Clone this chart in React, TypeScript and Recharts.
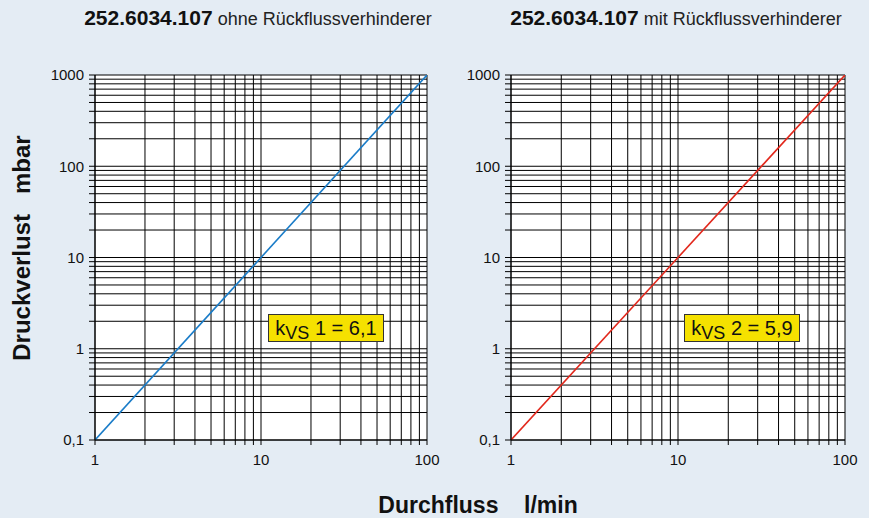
import React from "react";
import { LineChart, Line, XAxis, YAxis, CartesianGrid } from "recharts";

// Durchfluss l/min
const flow = [1, 10, 100];
// Druckverlust mbar
const lossOhne = [0.1, 10, 1000];
const lossMit = [0.1, 10, 1000];

const xTicks = [1, 2, 3, 4, 5, 6, 7, 8, 9, 10, 20, 30, 40, 50, 60, 70, 80, 90, 100];
const yTicks = [
  0.1, 0.2, 0.3, 0.4, 0.5, 0.6, 0.7, 0.8, 0.9,
  1, 2, 3, 4, 5, 6, 7, 8, 9,
  10, 20, 30, 40, 50, 60, 70, 80, 90,
  100, 200, 300, 400, 500, 600, 700, 800, 900,
  1000,
];
const xLabels: Record<number, string> = { 1: "1", 10: "10", 100: "100" };
const yLabels: Record<number, string> = { 0.1: "0,1", 1: "1", 10: "10", 100: "100", 1000: "1000" };

const FONT = "'Liberation Sans', Arial, Helvetica, sans-serif";

const makeData = (loss: number[]) => flow.map((q, i) => ({ q, p: loss[i] }));

type PanelProps = {
  data: { q: number; p: number }[];
  color: string;
  width: number;
  margin: { top: number; right: number; bottom: number; left: number };
};

const Panel = ({ data, color, width, margin }: PanelProps) => (
  <LineChart width={width} height={518} data={data} margin={margin}>
    <CartesianGrid stroke="#000" strokeWidth={1} fill="#fff" fillOpacity={1} />
    <XAxis
      dataKey="q"
      type="number"
      scale="log"
      domain={[1, 100]}
      ticks={xTicks}
      interval={0}
      allowDataOverflow
      height={30}
      tickSize={5}
      tickMargin={9}
      stroke="#000"
      tick={{ fill: "#111", fontSize: 15, fontFamily: FONT }}
      tickFormatter={(v: number) => xLabels[v] ?? ""}
    />
    <YAxis
      dataKey="p"
      type="number"
      scale="log"
      domain={[0.1, 1000]}
      ticks={yTicks}
      interval={0}
      allowDataOverflow
      width={50}
      tickSize={6}
      tickMargin={5}
      stroke="#000"
      tick={{ fill: "#111", fontSize: 15, fontFamily: FONT }}
      tickFormatter={(v: number) => yLabels[v] ?? ""}
    />
    <Line
      dataKey="p"
      stroke={color}
      strokeWidth={1.6}
      dot={false}
      isAnimationActive={false}
      type="linear"
    />
  </LineChart>
);

const KvsBox = ({ left, top, num, value }: { left: number; top: number; num: string; value: string }) => (
  <div
    style={{
      position: "absolute",
      left,
      top,
      width: 114,
      height: 26,
      background: "#f5e100",
      border: "1.5px solid #333",
      fontFamily: FONT,
      fontSize: 20,
      color: "#111",
      textAlign: "center",
      lineHeight: "26px",
    }}
  >
    k<sub style={{ fontSize: 18, verticalAlign: "-4px" }}>VS</sub> {num} = {value}
  </div>
);

const Title = ({ center, rest }: { center: number; rest: string }) => (
  <div
    style={{
      position: "absolute",
      left: center - 250,
      width: 500,
      top: 6,
      textAlign: "center",
      fontFamily: FONT,
      whiteSpace: "nowrap",
      color: "#111",
    }}
  >
    <span style={{ fontWeight: "bold", fontSize: 21 }}>252.6034.107</span>
    <span style={{ fontSize: 18, color: "#222" }}> {rest}</span>
  </div>
);

export default function App() {
  return (
    <div
      style={{
        position: "absolute",
        left: 0,
        top: 0,
        width: 869,
        height: 518,
        background: "#e4ecf4",
        overflow: "hidden",
      }}
    >
      <Title center={258} rest="ohne Rückflussverhinderer" />
      <Title center={676} rest="mit Rückflussverhinderer" />

      <div style={{ position: "absolute", left: 0, top: 0 }}>
        <Panel
          data={makeData(lossOhne)}
          color="#1a7cc8"
          width={440}
          margin={{ top: 75, right: 13, bottom: 48, left: 45 }}
        />
      </div>
      <div style={{ position: "absolute", left: 440, top: 0 }}>
        <Panel
          data={makeData(lossMit)}
          color="#e2281c"
          width={429}
          margin={{ top: 75, right: 24, bottom: 48, left: 21 }}
        />
      </div>

      <KvsBox left={268} top={314} num="1" value="6,1" />
      <KvsBox left={684} top={314} num="2" value="5,9" />

      <div
        style={{
          position: "absolute",
          left: 22,
          top: 248,
          transform: "translate(-50%, -50%) rotate(-90deg)",
          fontFamily: FONT,
          fontWeight: "bold",
          fontSize: 24,
          color: "#111",
          whiteSpace: "pre",
        }}
      >
        {"Druckverlust   mbar"}
      </div>
      <div
        style={{
          position: "absolute",
          left: 478,
          top: 505,
          transform: "translate(-50%, -50%)",
          fontFamily: FONT,
          fontWeight: "bold",
          fontSize: 23,
          color: "#111",
          whiteSpace: "pre",
        }}
      >
        {"Durchfluss    l/min"}
      </div>
    </div>
  );
}
